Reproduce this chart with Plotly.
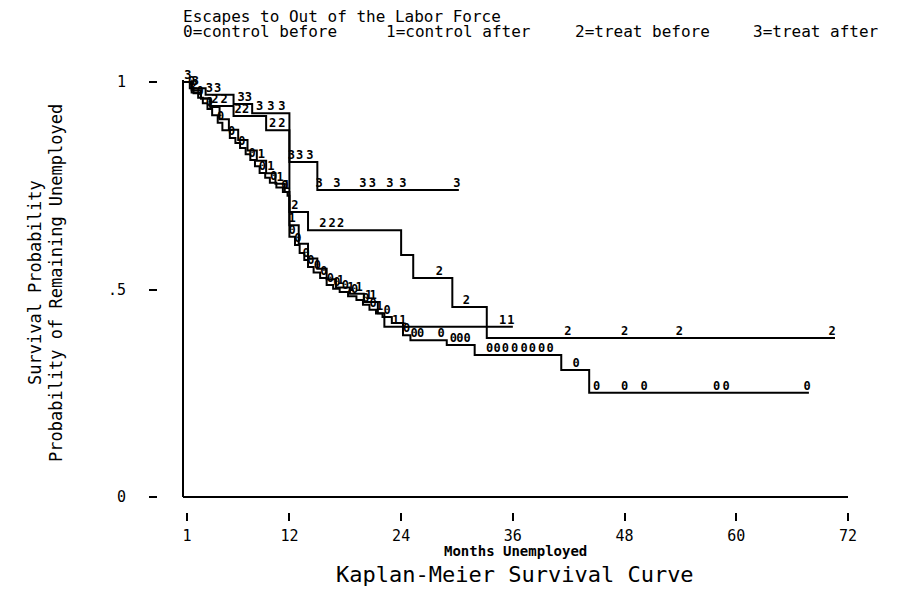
import numpy as np
import plotly.graph_objects as go

MONO = "DejaVu Sans Mono"

# Kaplan-Meier steps: month of each drop, survival after it
t_start = 0.6

times_0 = [1.3, 1.7, 2.2, 2.7, 3.2, 3.7, 4.3, 4.8, 5.6, 6.2, 6.7, 7.3, 7.8, 8.3, 8.8,
           9.4, 9.9, 10.6, 11.3, 11.8, 12.0, 12.6, 13.1, 13.6, 14.0, 14.6, 15.3, 16.0,
           16.7, 17.4, 18.3, 19.2, 19.9, 20.6, 21.3, 22.0, 23.0, 24.2, 25.0, 28.9, 31.9,
           41.2, 44.2]
surv_0 = [0.985, 0.973, 0.962, 0.949, 0.935, 0.920, 0.902, 0.884, 0.865, 0.853, 0.841,
          0.826, 0.812, 0.797, 0.781, 0.769, 0.757, 0.746, 0.735, 0.726, 0.627, 0.607,
          0.588, 0.571, 0.554, 0.541, 0.528, 0.511, 0.502, 0.494, 0.484, 0.475, 0.463,
          0.451, 0.442, 0.434, 0.419, 0.390, 0.378, 0.366, 0.342, 0.306, 0.251]
end_0 = 67.8
cens_0 = [1.5, 2.4, 3.4, 4.6, 5.8, 6.9, 8.0, 9.1, 10.3, 11.5, 12.3, 12.9, 13.8, 14.3,
          15.0, 15.7, 16.4, 17.1, 18.0, 19.0, 20.2, 21.0, 22.5, 24.6, 25.4, 26.1, 28.3,
          29.6, 30.3, 31.1, 33.5, 34.3, 35.2, 36.2, 37.2, 38.1, 39.1, 40.0, 42.8, 45.0,
          48.0, 50.1, 57.9, 58.9, 67.6]

times_1 = [1.5, 2.5, 3.5, 4.5, 5.5, 6.5, 7.5, 8.5, 9.5, 10.5, 11.5, 12.0, 13.0, 14.0,
           15.0, 16.0, 17.0, 18.5, 20.0, 21.5, 22.2]
surv_1 = [0.980, 0.960, 0.940, 0.910, 0.885, 0.860, 0.835, 0.810, 0.780, 0.755, 0.735,
          0.655, 0.610, 0.575, 0.550, 0.525, 0.505, 0.490, 0.470, 0.443, 0.410]
end_1 = 36.0
cens_1 = [9.0, 10.0, 11.0, 11.7, 12.3, 17.5, 18.6, 19.5, 20.5, 21.0, 21.7, 23.4, 24.2,
          34.9, 35.8]

times_2 = [1.5, 2.5, 3.5, 6.0, 9.5, 12.0, 14.0, 24.0, 25.3, 29.5, 33.2]
surv_2 = [0.975, 0.960, 0.942, 0.918, 0.884, 0.687, 0.643, 0.583, 0.528, 0.458, 0.383]
end_2 = 70.6
cens_2 = [1.8, 4.0, 5.0, 6.5, 7.3, 10.2, 11.2, 12.6, 15.6, 16.6, 17.5, 28.1, 31.0,
          41.9, 48.0, 53.9, 70.3]

times_3 = [1.5, 3.0, 6.0, 8.0, 12.0, 15.0]
surv_3 = [0.985, 0.969, 0.947, 0.925, 0.807, 0.740]
end_3 = 30.2
cens_3 = [1.1, 1.9, 3.4, 4.3, 6.8, 7.6, 8.8, 10.0, 11.2, 12.2, 13.1, 14.2, 15.2, 17.1,
          19.9, 20.9, 22.8, 24.2, 30.0]

group_codes = ["0", "1", "2", "3"]
group_names = ["0=control before", "1=control after", "2=treat before", "3=treat after"]

x_ticks = [1, 12, 24, 36, 48, 60, 72]
y_ticks = [0, 0.5, 1]
y_ticktext = ["0", ".5", "1"]

# page body has an 8px margin, so the figure is drawn 8px in from the corner
OFF = 8
W, H = 912 - OFF, 598 - OFF
# plot area in screen pixels
L, R, T, B = 158, 848, 75, 512


def px_x(px):
    return (px - L) / (R - L)


def px_y(py):
    return (B - py) / (B - T)


def level_at(t, times, surv):
    i = np.searchsorted(times, t, side="right")
    return 1.0 if i == 0 else surv[i - 1]


fig = go.Figure()

groups = [
    (times_0, surv_0, end_0, cens_0),
    (times_1, surv_1, end_1, cens_1),
    (times_2, surv_2, end_2, cens_2),
    (times_3, surv_3, end_3, cens_3),
]

for code, (times, surv, end, cens) in zip(group_codes, groups):
    fig.add_trace(go.Scatter(
        x=[t_start] + times + [end],
        y=[1.0] + surv + [surv[-1]],
        mode="lines",
        line=dict(color="black", width=2, shape="hv"),
        showlegend=False,
        hoverinfo="skip",
    ))
    fig.add_trace(go.Scatter(
        x=cens,
        y=[level_at(c, times, surv) for c in cens],
        mode="text",
        text=[code] * len(cens),
        textposition="top center",
        textfont=dict(family=MONO, size=12, color="black", weight="bold"),
        cliponaxis=False,
        showlegend=False,
    ))

px_per_month = (848 - 187) / 71
x_lo = 1 - (187 - L) / px_per_month
fig.update_layout(
    width=W, height=H,
    margin=dict(l=L - OFF, r=912 - R, t=T - OFF, b=598 - B),
    paper_bgcolor="white", plot_bgcolor="white",
    font=dict(family=MONO, color="black"),
    xaxis=dict(
        range=[x_lo, 72], showgrid=False, zeroline=False, showline=False,
        tickvals=x_ticks, ticktext=[str(v) for v in x_ticks],
        ticks="outside", ticklen=8, tickwidth=2, tickcolor="black",
        tickfont=dict(family=MONO, size=15), ticklabelstandoff=2,
    ),
    yaxis=dict(
        range=[-15 / 415, 422 / 415], showgrid=False, zeroline=False, showline=False,
        tickvals=y_ticks, ticktext=y_ticktext,
        ticks="outside", ticklen=8, tickwidth=2, tickcolor="black",
        tickfont=dict(family=MONO, size=15), ticklabelstandoff=20,
    ),
)

# the L-shaped axis frame sits inside the tick marks
axis_x = 1 - 4 / px_per_month
fig.add_shape(type="line", x0=axis_x, x1=axis_x, y0=0, y1=1.005,
              line=dict(color="black", width=2))
fig.add_shape(type="line", x0=axis_x, x1=72, y0=0, y1=0,
              line=dict(color="black", width=2))

fig.add_annotation(text="Escapes to Out of the Labor Force", x=px_x(181), y=px_y(17),
                   xref="paper", yref="paper", xanchor="left", yanchor="middle",
                   showarrow=False, font=dict(family=MONO, size=16))
legend_px = [181, 384, 573, 751]
for name, lx in zip(group_names, legend_px):
    fig.add_annotation(text=name, x=px_x(lx), y=px_y(31),
                       xref="paper", yref="paper", xanchor="left", yanchor="middle",
                       showarrow=False, font=dict(family=MONO, size=16))

for line_text, lx in [("Survival Probability", 35),
                      ("Probability of Remaining Unemployed", 56)]:
    fig.add_annotation(text=line_text, x=px_x(lx), y=px_y(283),
                       xref="paper", yref="paper", xanchor="center", yanchor="middle",
                       textangle=-90, showarrow=False, font=dict(family=MONO, size=17))

fig.add_annotation(text="<b>Months Unemployed</b>", x=px_x(515), y=px_y(551),
                   xref="paper", yref="paper", xanchor="center", yanchor="middle",
                   showarrow=False, font=dict(family=MONO, size=14))
fig.add_annotation(text="Kaplan-Meier Survival Curve", x=px_x(515), y=px_y(574),
                   xref="paper", yref="paper", xanchor="center", yanchor="middle",
                   showarrow=False, font=dict(family=MONO, size=22))

fig.write_html("out.html")
